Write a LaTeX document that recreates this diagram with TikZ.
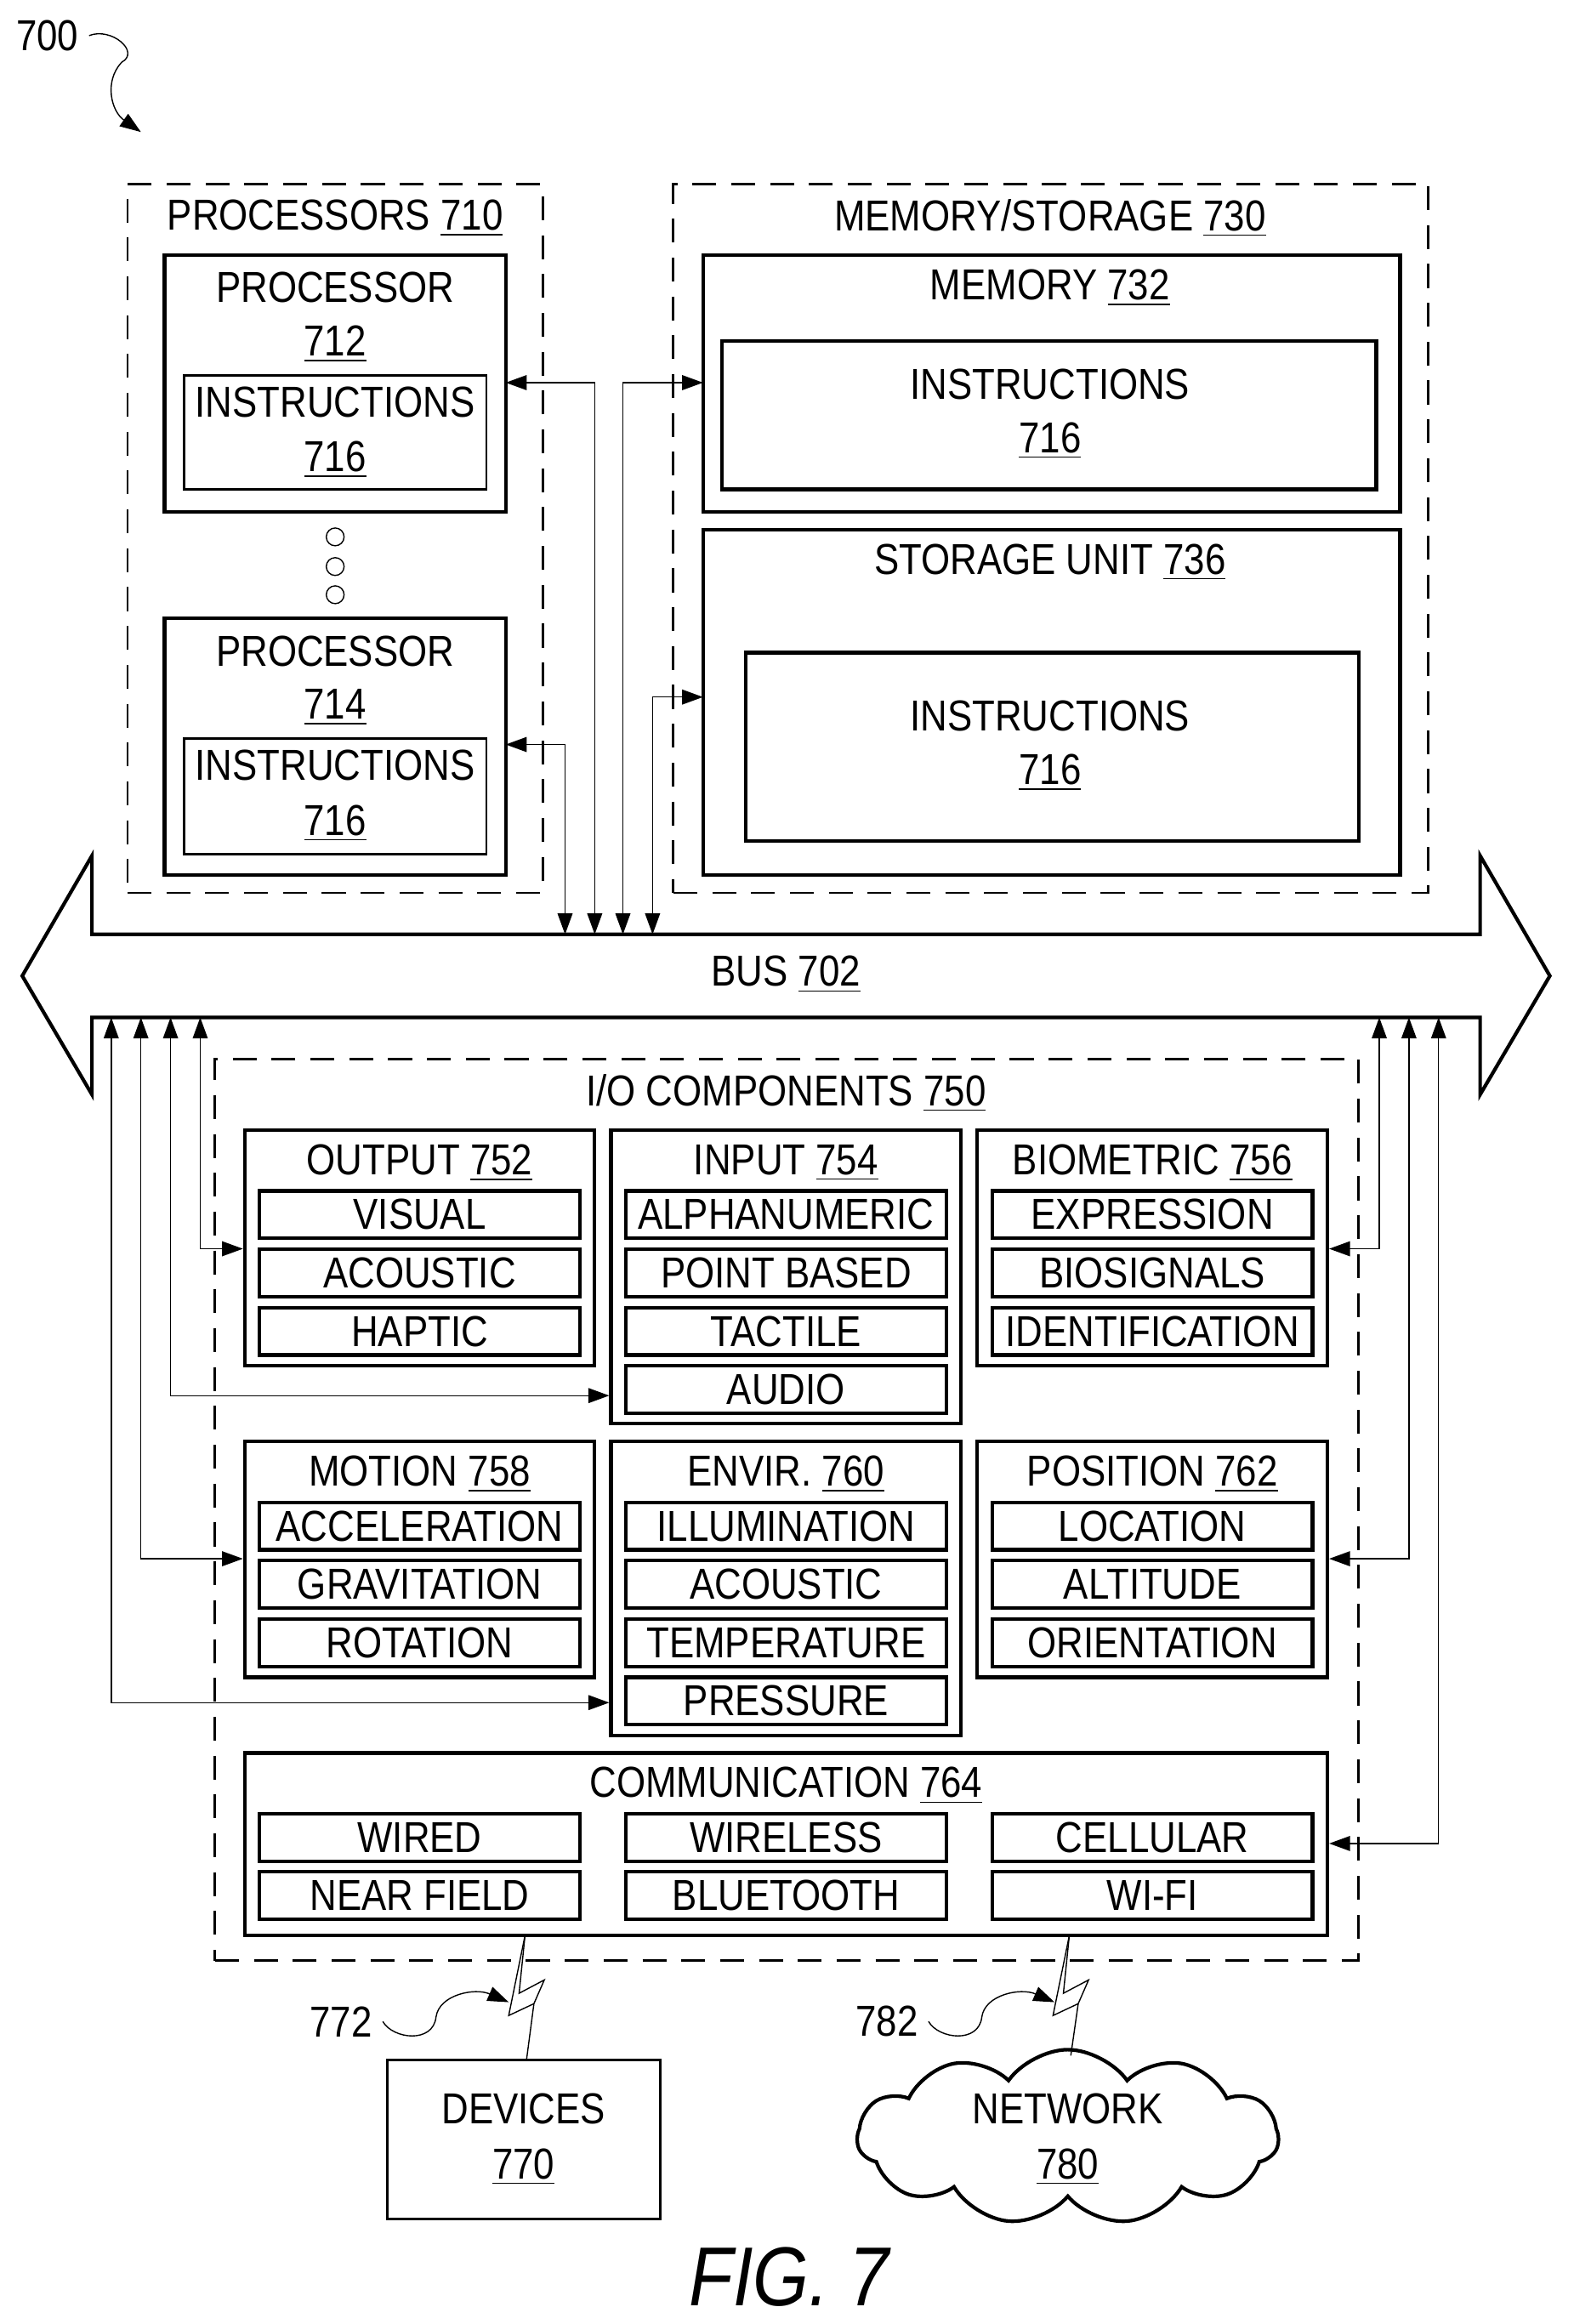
\documentclass[tikz,border=0pt]{standalone}
\usepackage{fontspec}
\setmainfont{Liberation Sans}[FakeStretch=0.86]
\usepackage{tikz}
\usetikzlibrary{positioning, calc, fit, arrows.meta, shapes.symbols}
\newcommand{\un}[1]{\underline{#1}}
\def\u{0.01744cm}

\begin{document}
\begin{tikzpicture}[
    x=\u, y=-\u,
    font=\fontsize{14.5}{16}\selectfont,
    >={Triangle[length=7pt,width=5pt]},
    grp/.style={draw=black, dashed, dash pattern=on 8pt off 5pt, thick, inner sep=0pt},
    blk/.style={draw=black, very thick, inner sep=0pt},
    item/.style={draw=black, very thick, minimum width=216*\u, minimum height=32*\u, inner sep=0pt},
    wire/.style={<->, thin},
    bolt/.style={thin, line join=miter}
  ]
  \useasboundingbox (0,0) rectangle (1061,1567);

  % reference 700
  \node (r700) at (32,24) {700};
  \draw[->, thin] (r700.east) .. controls (75,18) and (95,35) .. (82,42) .. controls (70,55) and (75,75) .. (95,89);

  % processors
  \node[grp, fit={(86,124) (366,602)}] (procs) {};
  \node at (226,147) {PROCESSORS \un{710}};
  \node[blk, fit={(111,172) (341,345)}] (p712) {};
  \node at (226,194) {PROCESSOR};
  \node at (226,232) {\un{712}};
  \node[blk, thick, fit={(124,253) (328,330)}] (i712) {};
  \node at (226,271) {INSTRUCTIONS};
  \node at (226,310) {\un{716}};
  \foreach \y in {362,382,401}
    \draw (226,\y) circle (6);
  \node[blk, fit={(111,417) (341,590)}] (p714) {};
  \node at (226,439) {PROCESSOR};
  \node at (226,477) {\un{714}};
  \node[blk, thick, fit={(124,498) (328,576)}] (i714) {};
  \node at (226,516) {INSTRUCTIONS};
  \node at (226,555) {\un{716}};

  % memory / storage
  \node[grp, fit={(454,124) (963,602)}] (mem) {};
  \node at (708,147) {MEMORY/STORAGE \un{730}};
  \node[blk, fit={(474,172) (944,345)}] (m732) {};
  \node at (708,194) {MEMORY \un{732}};
  \node[blk, fit={(487,230) (928,330)}] (i732) {};
  \node at (708,259) {INSTRUCTIONS};
  \node at (708,297) {\un{716}};
  \node[blk, fit={(474,357) (944,590)}] (s736) {};
  \node at (708,379) {STORAGE UNIT \un{736}};
  \node[blk, fit={(503,440) (916,567)}] (i736) {};
  \node at (708,483) {INSTRUCTIONS};
  \node at (708,521) {\un{716}};

  % bus
  \draw[very thick, line join=miter] (62,630) -- (998,630) -- (998,577) -- (1045,658) -- (998,738) -- (998,686)
    -- (62,686) -- (62,738) -- (15,658) -- (62,577) -- cycle;
  \node (bus) at (530,657) {BUS \un{702}};

  \coordinate (c712) at (341,258);
  \coordinate (c714) at (341,502);
  \coordinate (c732) at (474,258);
  \coordinate (c736) at (474,470);
  \draw[wire] (c714) -| (381,630);
  \draw[wire] (c712) -| (401,630);
  \draw[wire] (c732) -| (420,630);
  \draw[wire] (c736) -| (440,630);

  % i/o components
  \node[grp, fit={(145,714) (916,1322)}] (io) {};
  \node at (530,737) {I/O COMPONENTS \un{750}};

  \node[blk, fit={(165,762) (401,921)}] (out) {};
  \node at (283,784) {OUTPUT \un{752}};
  \foreach \t [count=\i from 0] in {VISUAL,ACOUSTIC,HAPTIC}
    \node[item] at (283,819+39.3*\i) {\t};
  \node[blk, fit={(412,762) (648,960)}] (inp) {};
  \node at (530,784) {INPUT \un{754}};
  \foreach \t [count=\i from 0] in {ALPHANUMERIC,POINT BASED,TACTILE,AUDIO}
    \node[item] at (530,819+39.3*\i) {\t};
  \node[blk, fit={(659,762) (895,921)}] (bio) {};
  \node at (777,784) {BIOMETRIC \un{756}};
  \foreach \t [count=\i from 0] in {EXPRESSION,BIOSIGNALS,IDENTIFICATION}
    \node[item] at (777,819+39.3*\i) {\t};

  \node[blk, fit={(165,972) (401,1131)}] (mot) {};
  \node at (283,994) {MOTION \un{758}};
  \foreach \t [count=\i from 0] in {ACCELERATION,GRAVITATION,ROTATION}
    \node[item] at (283,1029+39.3*\i) {\t};
  \node[blk, fit={(412,972) (648,1170)}] (env) {};
  \node at (530,994) {ENVIR. \un{760}};
  \foreach \t [count=\i from 0] in {ILLUMINATION,ACOUSTIC,TEMPERATURE,PRESSURE}
    \node[item] at (530,1029+39.3*\i) {\t};
  \node[blk, fit={(659,972) (895,1131)}] (pos) {};
  \node at (777,994) {POSITION \un{762}};
  \foreach \t [count=\i from 0] in {LOCATION,ALTITUDE,ORIENTATION}
    \node[item] at (777,1029+39.3*\i) {\t};

  \node[blk, fit={(165,1182) (895,1305)}] (com) {};
  \node at (530,1204) {COMMUNICATION \un{764}};
  \foreach \t/\x/\y in {WIRED/283/1239, WIRELESS/530/1239, CELLULAR/777/1239,
      NEAR FIELD/283/1278, BLUETOOTH/530/1278, WI-FI/777/1278}
    \node[item] at (\x,\y) {\t};

  \draw[wire] (out.west |- 0,842) -| (135,686);
  \draw[wire] (inp.west |- 0,941) -| (115,686);
  \draw[wire] (mot.west |- 0,1051) -| (95,686);
  \draw[wire] (env.west |- 0,1148) -| (75,686);
  \draw[wire] (bio.east |- 0,842) -| (930,686);
  \draw[wire] (pos.east |- 0,1051) -| (950,686);
  \draw[wire] (com.east |- 0,1243) -| (970,686);

  % devices and network
  \node[blk, thick, fit={(261,1389) (445,1496)}] (dev) {};
  \node at (353,1422) {DEVICES};
  \node at (353,1461) {\un{770}};
  \node[cloud, draw, very thick, cloud puffs=11, cloud puff arc=110, aspect=2.4,
    minimum width=284*\u, minimum height=118*\u, inner sep=0pt] (net) at (720,1441) {};
  \node at (720,1422) {NETWORK};
  \node at (720,1461) {\un{780}};

  \draw[bolt] (354,1305) -- (350,1344) -- (367,1335) -- (360,1351) -- (355,1389);
  \draw[bolt] (354,1305) -- (343,1359) -- (360,1351);
  \draw[bolt] (721,1305) -- (717,1344) -- (734,1335) -- (727,1351) -- (722,1386);
  \draw[bolt] (721,1305) -- (710,1359) -- (727,1351);

  \node (r772) at (230,1363) {772};
  \draw[->, thin] (r772.east) .. controls (265,1375) and (292,1378) .. (294,1360) .. controls (296,1345) and (320,1340) .. (343,1350);
  \node (r782) at (598,1363) {782};
  \draw[->, thin] (r782.east) .. controls (633,1375) and (660,1378) .. (662,1360) .. controls (664,1345) and (688,1340) .. (711,1350);

  \node at (532,1535) {\fontsize{28}{30}\selectfont\itshape FIG. 7};
\end{tikzpicture}
\end{document}
